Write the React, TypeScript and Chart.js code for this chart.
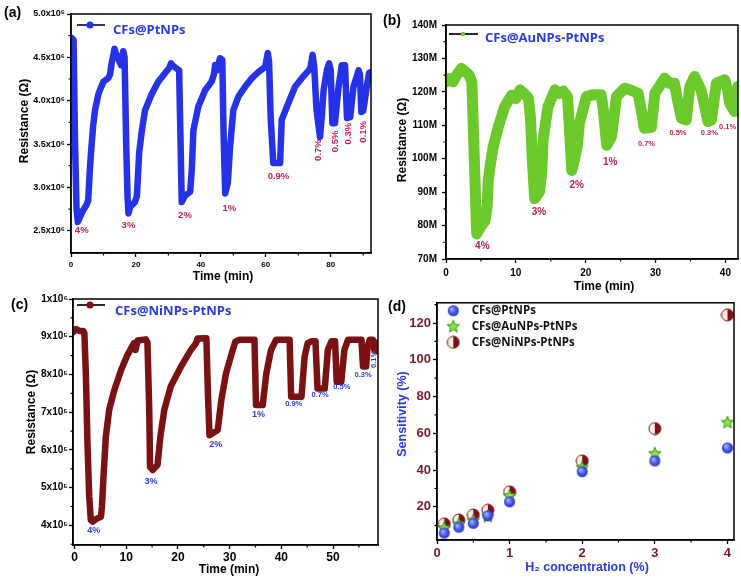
import React, { useEffect, useRef } from "react";
import { Chart, registerables } from "chart.js";
Chart.register(...registerables);

// ---------------- DATA ----------------
// (a) CFs@PtNPs : [time (min), resistance (x10^6 ohm)]
const aPoints: [number, number][] = [
  [0.3, 4.72], [0.8, 4.7], [1.2, 3.6], [1.7, 2.75], [2.1, 2.6], [2.8, 2.66], [3.8, 2.74], [4.8, 2.8],
  [5.3, 2.85], [5.8, 3.2], [6.2, 3.42], [6.8, 3.7], [7.4, 3.89], [8.4, 4.07], [9.2, 4.15], [10.0, 4.22],
  [11.5, 4.26], [12.0, 4.3], [12.5, 4.43], [13.0, 4.52], [13.4, 4.6], [13.8, 4.55], [14.6, 4.48], [15.4, 4.41],
  [15.8, 4.5], [16.1, 4.57], [16.5, 4.5], [17.0, 3.5], [17.4, 2.9], [17.7, 2.7], [18.3, 2.78], [19.7, 2.83],
  [20.3, 2.9], [21.0, 3.4], [21.8, 3.65], [22.8, 3.89], [24.9, 4.08], [26.9, 4.22], [29.0, 4.32], [30.3, 4.38],
  [30.8, 4.43], [31.5, 4.4], [33.3, 4.35], [33.7, 3.6], [34.1, 2.83], [35.0, 2.9], [36.7, 2.95], [37.2, 3.2],
  [37.7, 3.66], [39.2, 3.93], [41.3, 4.12], [43.3, 4.22], [44.0, 4.3], [44.4, 4.41], [44.9, 4.35], [45.9, 4.49],
  [46.6, 4.47], [47.0, 3.6], [47.5, 2.93], [48.3, 3.05], [49.0, 3.47], [50.0, 3.89], [51.6, 4.05], [53.6, 4.16],
  [55.7, 4.26], [57.7, 4.33], [59.8, 4.39], [60.6, 4.55], [61.0, 4.45], [61.5, 3.8], [62.3, 3.28], [64.4, 3.28],
  [64.9, 3.78], [66.5, 3.93], [69.0, 4.16], [71.1, 4.26], [73.7, 4.37], [74.4, 4.53], [74.9, 4.4], [75.6, 3.9],
  [76.7, 3.58], [77.2, 3.8], [77.8, 4.12], [78.8, 4.35], [79.5, 4.43], [80.0, 4.35], [80.5, 3.74], [81.3, 3.74],
  [82.4, 4.16], [83.4, 4.41], [84.4, 4.41], [85.0, 3.8], [86.0, 3.81], [87.0, 4.16], [88.6, 4.35], [89.0, 4.3],
  [89.4, 3.87], [90.0, 3.88], [91.1, 4.16], [91.8, 4.32], [92.4, 4.33],
];
const aXTicks = [0, 20, 40, 60, 80];
const aXTickLabels = ["0", "20", "40", "60", "80"];
const aXMinor = [10, 30, 50, 70, 90];
const aYTicks = [2.5, 3.0, 3.5, 4.0, 4.5, 5.0];
const aYTickLabels = ["2.5x10⁶", "3.0x10⁶", "3.5x10⁶", "4.0x10⁶", "4.5x10⁶", "5.0x10⁶"];
const aYMinor = [2.75, 3.25, 3.75, 4.25, 4.75];
const aNotes: [string, number, number, boolean][] = [
  ["4%", 3.3, 2.5, false], ["3%", 17.7, 2.565, false], ["2%", 35.1, 2.68, false], ["1%", 48.8, 2.76, false],
  ["0.9%", 63.9, 3.13, false], ["0.7%", 76.2, 3.43, true], ["0.5%", 81.4, 3.53, true], ["0.3%", 85.5, 3.62, true],
  ["0.1%", 89.9, 3.64, true],
];

// (b) CFs@AuNPs-PtNPs : [time (min), resistance (M ohm)]
const bPoints: [number, number][] = [
  [0, 123], [0.5, 124], [1.0, 123], [1.5, 125], [2.2, 127], [2.8, 126], [3.3, 125], [3.7, 123], [3.9, 110],
  [4.2, 90], [4.4, 77.5], [4.8, 79], [5.1, 80], [5.6, 81.5], [5.9, 86], [6.05, 93.7], [6.4, 99], [6.76, 103.6],
  [7.5, 109.6], [8.4, 115.6], [9.4, 119], [10.0, 118], [10.6, 120.6], [11.2, 119.5], [11.8, 118.1], [12.1, 112],
  [12.4, 98], [12.7, 88], [13.4, 90.2], [13.7, 96], [13.9, 105.6], [14.6, 115.6], [15.6, 120.6], [16.2, 119.5],
  [16.8, 120.2], [17.4, 118.5], [17.7, 108], [18.0, 96.5], [18.4, 99.7], [18.8, 104], [19.1, 110.6], [20.1, 118.6],
  [21.0, 119.1], [22.2, 119.1], [22.5, 115], [23.0, 104], [23.7, 106.6], [24.4, 118.6], [25.6, 121.1],
  [26.5, 120.5], [27.5, 119.6], [27.9, 115], [28.4, 109.1], [29.4, 109.4], [29.9, 119.6], [31.3, 124.1],
  [32.0, 122.5], [32.7, 122.6], [33.1, 118], [33.7, 112.1], [34.4, 111.6], [34.9, 121.6], [35.6, 124.6],
  [36.5, 120.6], [37.0, 116], [37.5, 111.1], [38.0, 111.6], [38.7, 122.6], [39.9, 123.6], [40.3, 120.6],
  [40.6, 116.6], [41.3, 114.1], [41.8, 121.6],
];
const bXTicks = [0, 10, 20, 30, 40];
const bXTickLabels = ["0", "10", "20", "30", "40"];
const bXMinor = [5, 15, 25, 35];
const bYTicks = [70, 80, 90, 100, 110, 120, 130, 140];
const bYTickLabels = ["70M", "80M", "90M", "100M", "110M", "120M", "130M", "140M"];
const bYMinor = [75, 85, 95, 105, 115, 125, 135];
const bNotes: [string, number, number, boolean][] = [
  ["4%", 5.2, 73.8, false], ["3%", 13.3, 83.9, false], ["2%", 18.7, 92, false], ["1%", 23.5, 99, false],
  ["0.7%", 28.7, 104.4, false], ["0.5%", 33.2, 107.6, false], ["0.3%", 37.7, 107.6, false], ["0.1%", 40.3, 109.6, false],
];

// (c) CFs@NiNPs-PtNPs : [time (min), resistance (x10^5 ohm)]
const cPoints: [number, number][] = [
  [-0.3, 9.12], [0.3, 9.2], [1.0, 9.15], [1.7, 9.15], [1.9, 9.1], [2.2, 7.94], [2.5, 6.17], [2.84, 4.76],
  [3.15, 4.14], [3.5, 4.1], [4.3, 4.18], [5.1, 4.23], [5.3, 4.5], [5.6, 5.29], [6.05, 6.35], [6.7, 7.06],
  [7.7, 7.59], [9.0, 8.12], [10.25, 8.52], [11.5, 8.83], [11.8, 8.65], [12.2, 8.9], [13.8, 8.93], [14.1, 8.85],
  [14.45, 7.06], [14.6, 5.55], [15.1, 5.47], [16.05, 5.6], [16.6, 6.35], [17.35, 7.06], [18.6, 7.68],
  [20.6, 8.21], [22.5, 8.65], [23.5, 8.83], [23.8, 8.95], [25.5, 8.96], [25.8, 7.5], [26.1, 6.39], [27.7, 6.53],
  [28.4, 7.33], [29.3, 8.03], [30.6, 8.65], [31.1, 8.87], [31.9, 8.92], [34.8, 8.92], [35.1, 7.19], [36.4, 7.19],
  [37.1, 8.03], [38.0, 8.65], [39.0, 8.92], [41.6, 8.92], [41.9, 7.41], [43.9, 7.41], [44.5, 8.47], [45.1, 8.83],
  [45.8, 8.88], [46.6, 8.88], [47.0, 7.63], [48.4, 7.63], [49.0, 8.65], [49.7, 8.88], [50.4, 8.88], [50.7, 7.81],
  [51.6, 7.81], [52.2, 8.65], [52.9, 8.92], [55.5, 8.92], [55.8, 8.21], [56.4, 8.21], [56.7, 8.74], [57.1, 8.92],
  [57.7, 8.92], [58.0, 8.65], [58.3, 8.62], [58.7, 8.85],
];
const cXTicks = [0, 10, 20, 30, 40, 50];
const cXTickLabels = ["0", "10", "20", "30", "40", "50"];
const cXMinor = [5, 15, 25, 35, 45, 55];
const cYTicks = [4, 5, 6, 7, 8, 9, 10];
const cYTickLabels = ["4x10⁵", "5x10⁵", "6x10⁵", "7x10⁵", "8x10⁵", "9x10⁵", "1x10⁶"];
const cYMinor = [3.5, 4.5, 5.5, 6.5, 7.5, 8.5, 9.5];
const cNotes: [string, number, number, boolean][] = [
  ["4%", 3.7, 3.86, false], ["3%", 14.8, 5.17, false], ["2%", 27.3, 6.13, false], ["1%", 35.6, 6.93, false],
  ["0.9%", 42.4, 7.21, false], ["0.7%", 47.5, 7.46, false], ["0.5%", 51.7, 7.68, false], ["0.3%", 55.8, 7.99, false],
  ["0.1%", 58.0, 8.4, true],
];

// (d) sensitivity vs H2 concentration
const dConc = [0.1, 0.3, 0.5, 0.7, 1, 2, 3, 4];
const dPt = [5.8, 9.0, 11.1, 15.2, 22.8, 39.2, 45.0, 52.1];
const dAu = [8.4, 10.5, 12.5, 14.7, 25.9, 41.3, 48.9, 65.8];
const dNi = [10.8, 12.9, 15.6, 18.2, 28.2, 45.0, 62.6, 124.4];
const dXTicks = [0, 1, 2, 3, 4];
const dXTickLabels = ["0", "1", "2", "3", "4"];
const dXMinor = [0.5, 1.5, 2.5, 3.5];
const dYTicks = [20, 40, 60, 80, 100, 120];
const dYTickLabels = ["20", "40", "60", "80", "100", "120"];
const dYMinor = [10, 30, 50, 70, 90, 110, 130];
const dNames = ["CFs@PtNPs", "CFs@AuNPs-PtNPs", "CFs@NiNPs-PtNPs"];

// ---------------- STYLE ----------------
const BLUE = "#2632e6";
const GREEN = "#6cc92c";
const MAROON = "#7a1214";
const CRIMSON = "#c21f4c";
const TXTBLUE = "#2b3be4";
const DKRED = "#7a1a28";
const SANS = "'Liberation Sans', Arial, sans-serif";
const OPEN = "'Open Sans', 'Liberation Sans', sans-serif";

type Box = { l: number; t: number; w: number; h: number };
type Area = { l: number; t: number; r: number; b: number };
type Axis = {
  min: number; max: number; ticks: number[]; labels: string[]; minor: number[];
  size: number; color: string; pad: number; family?: string;
};

function txt(ctx: CanvasRenderingContext2D, s: string, x: number, y: number, font: string, color: string,
  align: CanvasTextAlign = "left", rot = 0) {
  ctx.save();
  ctx.translate(x, y);
  if (rot) ctx.rotate(rot);
  ctx.font = font;
  ctx.fillStyle = color;
  ctx.textAlign = align;
  ctx.textBaseline = "middle";
  ctx.fillText(s, 0, 0);
  ctx.restore();
}

function scaleCfg(ax: Axis, horizontal: boolean, size: number) {
  return {
    type: "linear",
    min: ax.min,
    max: ax.max,
    afterBuildTicks: (s: any) => { s.ticks = ax.ticks.map((v) => ({ value: v })); },
    afterFit: (s: any) => { if (horizontal) s.height = size; else s.width = size; },
    ticks: {
      autoSkip: false, maxRotation: 0, minRotation: 0, padding: ax.pad,
      font: { family: ax.family || SANS, size: ax.size, weight: "bold" }, color: ax.color,
      callback: (v: any) => { const i = ax.ticks.indexOf(v); return i >= 0 ? ax.labels[i] : ""; },
    },
    grid: { display: true, drawOnChartArea: false, drawTicks: true, tickLength: 4, tickColor: "#000", tickWidth: 1.3 },
    border: { display: true, color: "#000", width: 1.5 },
  };
}

function frameAndMinor(ctx: CanvasRenderingContext2D, chart: any, xm: number[], ym: number[]) {
  const a = chart.chartArea;
  const xs = chart.scales.x, ys = chart.scales.y;
  ctx.save();
  ctx.strokeStyle = "#000";
  ctx.lineWidth = 1.5;
  ctx.strokeRect(a.left, a.top, a.right - a.left, a.bottom - a.top);
  ctx.lineWidth = 1.2;
  ctx.beginPath();
  xm.forEach((v) => { const p = xs.getPixelForValue(v); if (p > a.left && p < a.right) { ctx.moveTo(p, a.bottom); ctx.lineTo(p, a.bottom + 2.5); } });
  ym.forEach((v) => { const p = ys.getPixelForValue(v); if (p > a.top && p < a.bottom) { ctx.moveTo(a.left, p); ctx.lineTo(a.left - 2.5, p); } });
  ctx.stroke();
  ctx.restore();
}

function notes(ctx: CanvasRenderingContext2D, chart: any, list: [string, number, number, boolean][], color: string, big: number, small: number) {
  const xs = chart.scales.x, ys = chart.scales.y;
  list.forEach(([s, x, y, rot]) => {
    const size = s.length > 2 ? small : big;
    txt(ctx, s, xs.getPixelForValue(x), ys.getPixelForValue(y), `bold ${size}px ${SANS}`, color, "center", rot ? -Math.PI / 2 : 0);
  });
}

function makeImg(w: number, draw: (g: CanvasRenderingContext2D, c: number) => void) {
  const cv = document.createElement("canvas");
  cv.width = w; cv.height = w;
  const g = cv.getContext("2d")!;
  draw(g, w / 2);
  return cv;
}

function ballImg(r: number) {
  return makeImg(Math.ceil(2 * r + 2), (g, c) => {
    const gr = g.createRadialGradient(c - r * 0.35, c - r * 0.35, 0.5, c, c, r);
    gr.addColorStop(0, "#a9b6ff");
    gr.addColorStop(0.6, "#4257e8");
    gr.addColorStop(1, "#2a36c0");
    g.beginPath(); g.arc(c, c, r, 0, Math.PI * 2); g.fillStyle = gr; g.fill();
  });
}
function starImg(ro: number, ri: number) {
  return makeImg(Math.ceil(2 * ro + 3), (g, c) => {
    g.beginPath();
    for (let k = 0; k < 10; k++) {
      const ang = -Math.PI / 2 + (k * Math.PI) / 5;
      const rr = k % 2 ? ri : ro;
      const x = c + rr * Math.cos(ang), y = c + rr * Math.sin(ang);
      if (k === 0) g.moveTo(x, y); else g.lineTo(x, y);
    }
    g.closePath();
    g.fillStyle = "#86e83e"; g.fill();
    g.strokeStyle = "#2f8f12"; g.lineWidth = 1; g.stroke();
  });
}
function halfImg(r: number) {
  return makeImg(Math.ceil(2 * r + 2), (g, c) => {
    g.beginPath(); g.arc(c, c, r, 0, Math.PI * 2); g.fillStyle = "#f6eee4"; g.fill();
    g.beginPath(); g.moveTo(c, c - r); g.arc(c, c, r, -Math.PI / 2, Math.PI / 2); g.closePath(); g.fillStyle = "#7d1016"; g.fill();
    g.beginPath(); g.arc(c, c, r, 0, Math.PI * 2); g.strokeStyle = "#7d1016"; g.lineWidth = 1; g.stroke();
  });
}

function buildChart(canvas: HTMLCanvasElement, box: Box, area: Area, x: Axis, y: Axis, type: any, datasets: any[],
  draw: (ctx: CanvasRenderingContext2D, chart: any, P: (px: number, py: number) => [number, number]) => void) {
  const P = (px: number, py: number): [number, number] => [px - box.l, py - box.t];
  return new Chart(canvas, {
    type,
    data: { datasets },
    options: {
      responsive: false,
      animation: false,
      devicePixelRatio: 1,
      events: [],
      layout: { padding: { left: 0, top: area.t - box.t, right: box.l + box.w - area.r, bottom: 0 } },
      plugins: { legend: { display: false }, tooltip: { enabled: false } },
      scales: {
        x: scaleCfg(x, true, box.t + box.h - area.b) as any,
        y: scaleCfg(y, false, area.l - box.l) as any,
      },
    },
    plugins: [{
      id: "decor",
      afterDraw(chart: any) {
        const ctx = chart.ctx as CanvasRenderingContext2D;
        ctx.save();
        draw(ctx, chart, P);
        ctx.restore();
      },
    }],
  } as any);
}

const lineDs = (pts: [number, number][], color: string, width: number) => ({
  data: pts.map(([t, v]) => ({ x: t, y: v })),
  borderColor: color,
  backgroundColor: color,
  borderWidth: width,
  pointRadius: 0,
  tension: 0,
  borderJoinStyle: "round",
  borderCapStyle: "round",
});

const TITLE = `bold 12px ${SANS}`;
const LETTER = `bold 14px ${SANS}`;

function Panel({ box, make }: { box: Box; make: (c: HTMLCanvasElement) => Chart }) {
  const ref = useRef<HTMLCanvasElement>(null);
  useEffect(() => {
    const ch = make(ref.current!);
    return () => ch.destroy();
  }, []);
  return (
    <div style={{ position: "absolute", left: box.l, top: box.t, width: box.w, height: box.h }}>
      <canvas ref={ref} width={box.w} height={box.h} style={{ width: box.w, height: box.h, display: "block" }} />
    </div>
  );
}

const boxA: Box = { l: 0, t: 0, w: 380, h: 290 };
const areaA: Area = { l: 71, t: 14, r: 371, b: 253 };
const boxB: Box = { l: 375, t: 0, w: 366, h: 295 };
const areaB: Area = { l: 446, t: 25, r: 738, b: 259 };
const boxC: Box = { l: 0, t: 290, w: 385, h: 293 };
const areaC: Area = { l: 73, t: 299, r: 378, b: 545 };
const boxD: Box = { l: 385, t: 293, w: 356, h: 290 };
const areaD: Area = { l: 437, t: 298, r: 737, b: 540 };

const makeA = (cv: HTMLCanvasElement) => buildChart(cv, boxA, areaA,
  { min: 0, max: 92.4, ticks: aXTicks, labels: aXTickLabels, minor: aXMinor, size: 8, color: "#000", pad: 3 },
  { min: 2.243, max: 5.0, ticks: aYTicks, labels: aYTickLabels, minor: aYMinor, size: 9, color: "#000", pad: 2 },
  "line", [lineDs(aPoints, BLUE, 6.5)],
  (ctx, chart, P) => {
    frameAndMinor(ctx, chart, aXMinor, aYMinor);
    notes(ctx, chart, aNotes, CRIMSON, 9.5, 9.5);
    txt(ctx, "(a)", ...P(4, 13), LETTER, "#000");
    txt(ctx, "Time (min)", ...P(223, 277), TITLE, "#000", "center");
    txt(ctx, "Resistance (Ω)", ...P(25, 121), TITLE, "#000", "center", -Math.PI / 2);
    // legend
    ctx.strokeStyle = "#1a1a66"; ctx.lineWidth = 1.8;
    ctx.beginPath(); ctx.moveTo(...P(77, 25)); ctx.lineTo(...P(105, 25)); ctx.stroke();
    ctx.beginPath(); ctx.arc(...P(90, 25), 3.5, 0, Math.PI * 2); ctx.fillStyle = BLUE; ctx.fill();
    txt(ctx, "CFs@PtNPs", ...P(113, 30), `bold 13px ${OPEN}`, TXTBLUE);
  });

const makeB = (cv: HTMLCanvasElement) => buildChart(cv, boxB, areaB,
  { min: 0, max: 41.8, ticks: bXTicks, labels: bXTickLabels, minor: bXMinor, size: 10, color: "#000", pad: 4 },
  { min: 70, max: 140, ticks: bYTicks, labels: bYTickLabels, minor: bYMinor, size: 10, color: "#000", pad: 5 },
  "line", [lineDs(bPoints, GREEN, 11)],
  (ctx, chart, P) => {
    frameAndMinor(ctx, chart, bXMinor, bYMinor);
    notes(ctx, chart, bNotes, CRIMSON, 10, 7.5);
    txt(ctx, "(b)", ...P(383, 21), LETTER, "#000");
    txt(ctx, "Time (min)", ...P(604, 287), TITLE, "#000", "center");
    txt(ctx, "Resistance (Ω)", ...P(403, 140), TITLE, "#000", "center", -Math.PI / 2);
    ctx.strokeStyle = "#111"; ctx.lineWidth = 1.8;
    ctx.beginPath(); ctx.moveTo(...P(449, 34)); ctx.lineTo(...P(478, 34)); ctx.stroke();
    ctx.beginPath(); ctx.arc(...P(463, 34), 2.2, 0, Math.PI * 2); ctx.fillStyle = GREEN; ctx.fill();
    txt(ctx, "CFs@AuNPs-PtNPs", ...P(485, 38.5), `bold 13px ${OPEN}`, TXTBLUE);
  });

const makeC = (cv: HTMLCanvasElement) => buildChart(cv, boxC, areaC,
  { min: -0.3, max: 58.7, ticks: cXTicks, labels: cXTickLabels, minor: cXMinor, size: 12, color: "#000", pad: 1 },
  { min: 3.48, max: 10, ticks: cYTicks, labels: cYTickLabels, minor: cYMinor, size: 10, color: "#000", pad: 1 },
  "line", [lineDs(cPoints, MAROON, 6.5)],
  (ctx, chart, P) => {
    frameAndMinor(ctx, chart, cXMinor, cYMinor);
    notes(ctx, chart, cNotes, TXTBLUE, 9, 7.5);
    txt(ctx, "(c)", ...P(11, 305), LETTER, "#000");
    txt(ctx, "Time (min)", ...P(229, 570), TITLE, "#000", "center");
    txt(ctx, "Resistance (Ω)", ...P(32, 412), TITLE, "#000", "center", -Math.PI / 2);
    ctx.strokeStyle = "#111"; ctx.lineWidth = 1.8;
    ctx.beginPath(); ctx.moveTo(...P(77, 305)); ctx.lineTo(...P(105, 305)); ctx.stroke();
    ctx.beginPath(); ctx.arc(...P(90, 305), 3.5, 0, Math.PI * 2); ctx.fillStyle = MAROON; ctx.fill();
    txt(ctx, "CFs@NiNPs-PtNPs", ...P(115, 311.5), `bold 13px ${OPEN}`, TXTBLUE);
  });

const makeD = (cv: HTMLCanvasElement) => {
  const ball = ballImg(5.5), star = starImg(6.5, 2.8), half = halfImg(6);
  const pts = (ys: number[]) => dConc.map((c, i) => ({ x: c, y: ys[i] }));
  return buildChart(cv, boxD, areaD,
    { min: 0, max: 4.09, ticks: dXTicks, labels: dXTickLabels, minor: dXMinor, size: 13, color: DKRED, pad: 2 },
    { min: 2, max: 131, ticks: dYTicks, labels: dYTickLabels, minor: dYMinor, size: 13, color: DKRED, pad: 2 },
    "scatter", [
      { data: pts(dPt), pointStyle: ball, pointRadius: 6, showLine: false },
      { data: pts(dAu), pointStyle: star, pointRadius: 6, showLine: false },
      { data: pts(dNi), pointStyle: half, pointRadius: 6, showLine: false },
    ],
    (ctx, chart, P) => {
      frameAndMinor(ctx, chart, dXMinor, dYMinor);
      txt(ctx, "(d)", ...P(388, 307), LETTER, "#000");
      txt(ctx, "H₂ concentration (%)", ...P(587, 568), `bold 12.5px ${SANS}`, TXTBLUE, "center");
      txt(ctx, "Sensitivity (%)", ...P(403, 414), `bold 12.5px ${SANS}`, TXTBLUE, "center", -Math.PI / 2);
      const imgs = [ball, star, half];
      const rows = [310.7, 326.7, 342.3];
      imgs.forEach((im, i) => {
        const [cx, cy] = P(453.3, rows[i]);
        ctx.drawImage(im, cx - im.width / 2, cy - im.height / 2);
        txt(ctx, dNames[i], ...P(471.7, rows[i]), `bold 11.5px ${OPEN}`, "#111");
      });
    });
};

export default function App() {
  return (
    <div style={{ position: "absolute", left: 0, top: 0, width: 741, height: 583, background: "#fff", overflow: "hidden" }}>
      <Panel box={boxA} make={makeA} />
      <Panel box={boxB} make={makeB} />
      <Panel box={boxC} make={makeC} />
      <Panel box={boxD} make={makeD} />
    </div>
  );
}
